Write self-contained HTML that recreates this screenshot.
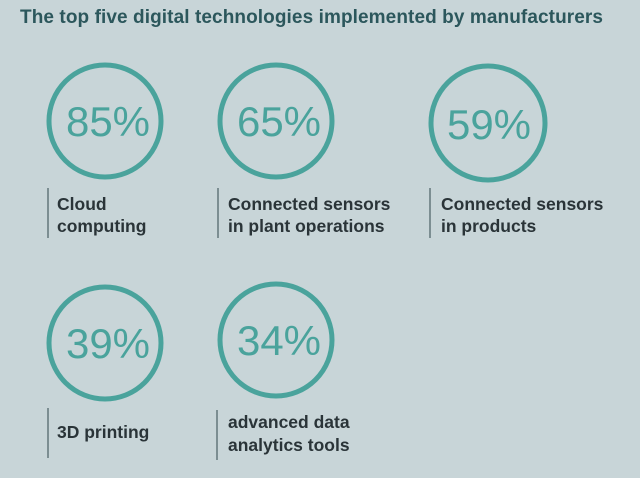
<!DOCTYPE html>
<html><head><style>
body{margin:0;width:640px;height:473px;background:#c8d5d8;overflow:hidden;font-family:"Liberation Sans","DejaVu Sans",sans-serif}
</style></head><body>
<svg width="640" height="473" xmlns="http://www.w3.org/2000/svg">
<rect width="640" height="473" fill="#c8d5d8"/>
<text x="20" y="23" font-family="Liberation Sans, sans-serif" font-weight="bold" font-size="19" fill="#2c575c" textLength="583">The top five digital technologies implemented by manufacturers</text>
<g fill="none" stroke="#4aa39c" stroke-width="5">
<circle cx="105" cy="121" r="56"/>
<circle cx="276" cy="121" r="56"/>
<circle cx="488" cy="123" r="57"/>
<circle cx="105" cy="343" r="56"/>
<circle cx="276" cy="340" r="56"/>
</g>
<g font-family="Liberation Sans, sans-serif" font-size="42" fill="#4aa39c" text-anchor="middle">
<text x="108" y="136">85%</text>
<text x="279" y="136">65%</text>
<text x="489" y="139">59%</text>
<text x="108" y="358">39%</text>
<text x="279" y="355">34%</text>
</g>
<g stroke="#7c8e92" stroke-width="2">
<line x1="48" y1="188" x2="48" y2="238"/>
<line x1="218" y1="188" x2="218" y2="238"/>
<line x1="430" y1="188" x2="430" y2="238"/>
<line x1="48" y1="408" x2="48" y2="458"/>
<line x1="217" y1="410" x2="217" y2="460"/>
</g>
<g font-family="Liberation Sans, sans-serif" font-weight="bold" font-size="17.5" fill="#2a3438">
<text x="57" y="210">Cloud</text><text x="57" y="232">computing</text>
<text x="228" y="210">Connected sensors</text><text x="228" y="232">in plant operations</text>
<text x="441" y="210">Connected sensors</text><text x="441" y="232">in products</text>
<text x="57" y="438">3D printing</text>
<text x="228" y="428">advanced data</text><text x="228" y="451">analytics tools</text>
</g>
</svg>
</body></html>
